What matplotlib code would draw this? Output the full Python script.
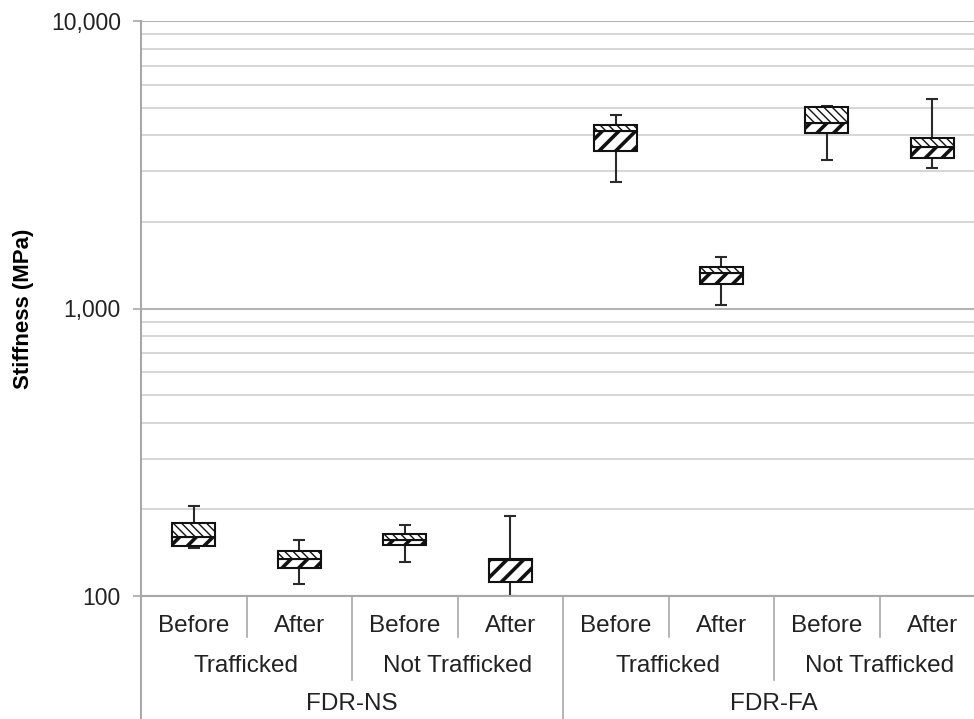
import matplotlib
matplotlib.use("Agg")
import matplotlib.pyplot as plt
import matplotlib.ticker as mticker
import matplotlib.transforms as mtrans
from matplotlib.lines import Line2D
import numpy as np

plt.rcParams['font.family'] = ['Liberation Sans', 'DejaVu Sans']

# ---- data ----
level1 = ["Before", "After", "Before", "After", "Before", "After", "Before", "After"]
level2 = ["Trafficked", "Not Trafficked", "Trafficked", "Not Trafficked"]
level3 = ["FDR-NS", "FDR-FA"]
mins = [147, 110, 131, 100, 2746, 1027, 3273, 3092]
q1s = [149, 125, 150, 112, 3537, 1212, 4074, 3336]
medians = [160, 134, 157, 133, 4150, 1329, 4414, 3641]
q3s = [180, 143, 164, 134, 4355, 1391, 5013, 3903]
maxs = [205, 156, 176, 190, 4705, 1507, 5081, 5374]

W, H = 974, 719
fig = plt.figure(figsize=(W / 100, H / 100), dpi=100)
ax_left, ax_right, ax_top, ax_bot = 141, 985, 21, 596
ax = fig.add_axes([ax_left / W, (H - ax_bot) / H, (ax_right - ax_left) / W, (ax_bot - ax_top) / H])

n = len(level1)
x = np.arange(n)
ax.set_xlim(-0.5, n - 0.5)
ax.set_yscale('log')
ax.set_ylim(100, 10000)

# grid
ax.yaxis.set_major_locator(mticker.FixedLocator([100, 1000, 10000]))
ax.yaxis.set_minor_locator(mticker.LogLocator(base=10, subs=np.arange(2, 10)))
ax.yaxis.set_major_formatter(mticker.StrMethodFormatter('{x:,.0f}'))
ax.yaxis.set_minor_formatter(mticker.NullFormatter())
ax.grid(True, which='major', axis='y', color='#b4b4b4', lw=1.5, zorder=0)
ax.grid(True, which='minor', axis='y', color='#cfcfcf', lw=1.2, zorder=0)
ax.set_axisbelow(True)
ax.tick_params(axis='y', which='major', length=6, width=1.2, color='#a8a8a8',
               labelsize=16.5, pad=8.5, labelcolor='#222222')
ax.tick_params(axis='y', which='minor', length=0)
ax.tick_params(axis='x', length=0, labelbottom=False)
for s in ['top', 'right']:
    ax.spines[s].set_visible(False)
ax.spines['left'].set_color('#a8a8a8')
ax.spines['left'].set_linewidth(1.5)
ax.spines['bottom'].set_color('#a8a8a8')
ax.spines['bottom'].set_linewidth(1.5)

# whiskers
med = np.array(medians)
yerr = np.vstack([med - np.array(mins), np.array(maxs) - med])
ax.errorbar(x, med, yerr=yerr, fmt='none', ecolor='#2a2a2a', elinewidth=1.5,
            capsize=4, capthick=1.5, zorder=2)

bw = 0.41
with plt.rc_context({'hatch.linewidth': 2.6}):
    ax.bar(x, np.array(medians) - np.array(q1s), bottom=q1s, width=bw,
           facecolor='white', edgecolor='#111111', hatch='//', lw=1.5, zorder=3)
with plt.rc_context({'hatch.linewidth': 1.0}):
    ax.bar(x, np.array(q3s) - np.array(medians), bottom=medians, width=bw,
           facecolor='white', edgecolor='#111111', hatch='\\\\\\\\', lw=1.5, zorder=3)

ax.set_ylabel('Stiffness (MPa)', fontsize=16, fontweight='bold')
ax.yaxis.set_label_coords(-(ax_left - 34) / (ax_right - ax_left), 0.5)

# multi-level category axis
tr = mtrans.blended_transform_factory(ax.transData, fig.transFigure)
def fy(p):
    return (H - p) / H

txtc = '#222222'
fs = 17.5
for i, lab in enumerate(level1):
    ax.text(i, fy(626), lab, transform=tr, ha='center', va='center', fontsize=fs, color=txtc)
for j, lab in enumerate(level2):
    ax.text(2 * j + 0.5, fy(666), lab, transform=tr, ha='center', va='center', fontsize=fs, color=txtc)
for k, lab in enumerate(level3):
    ax.text(4 * k + 1.5, fy(704), lab, transform=tr, ha='center', va='center', fontsize=fs, color=txtc)

sepc = '#a8a8a8'
for b in range(1, n):
    if b % 4 == 0:
        y_end = 719
    elif b % 2 == 0:
        y_end = 680
    else:
        y_end = 637
    fig.add_artist(Line2D([b - 0.5, b - 0.5], [fy(ax_bot), fy(y_end)], transform=tr,
                          color=sepc, lw=1.2, clip_on=False))
fig.add_artist(Line2D([-0.5, -0.5], [fy(ax_bot), fy(719)], transform=tr,
                      color=sepc, lw=1.5, clip_on=False))

fig.savefig('out.png', dpi=100)
